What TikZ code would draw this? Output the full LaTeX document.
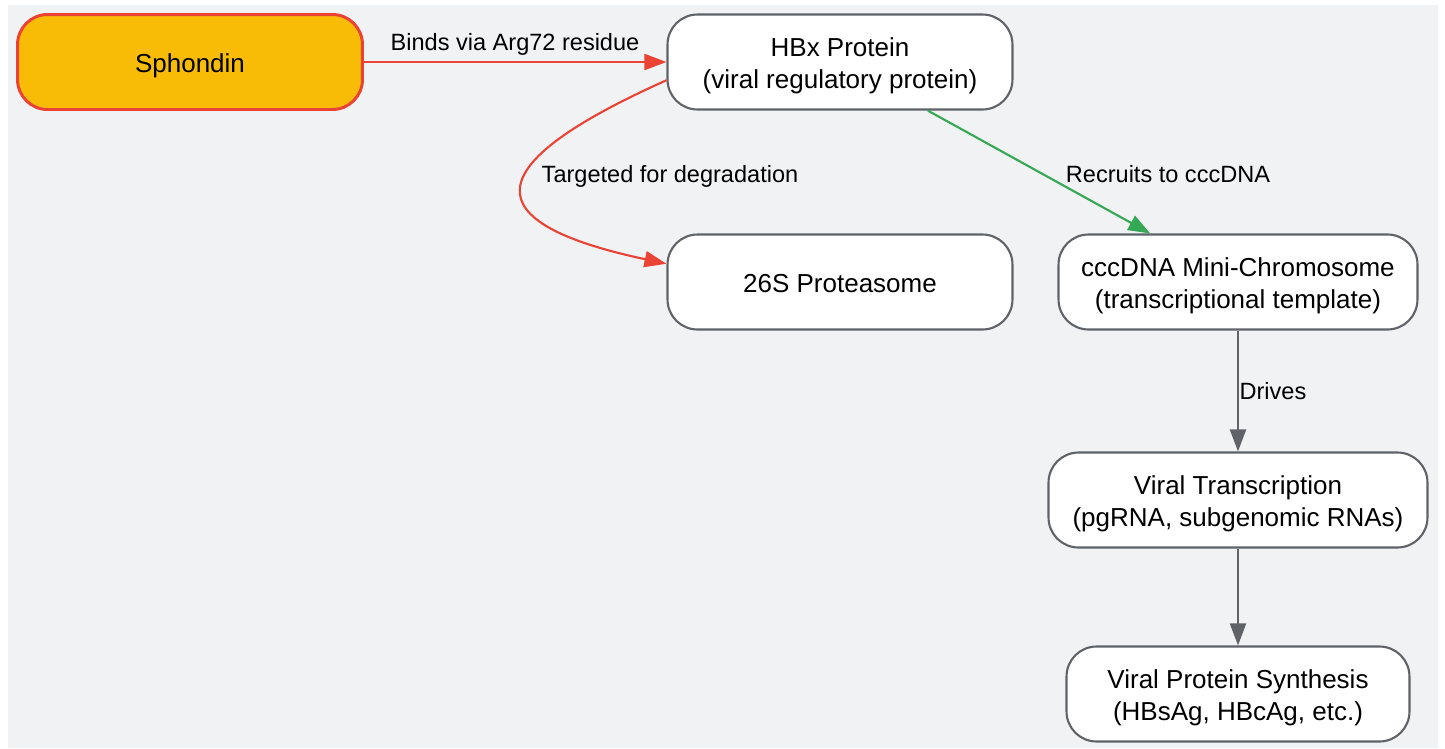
\documentclass[tikz,border=0pt]{standalone}
\usepackage{fontspec}
\setmainfont{Liberation Sans}
\usepackage{xcolor}
\usepackage{tikz}
\usetikzlibrary{arrows.meta, positioning}

\definecolor{bggray}{HTML}{F1F2F4}
\definecolor{boxgray}{HTML}{5F6368}
\definecolor{hlyellow}{HTML}{F9BC06}
\definecolor{hlred}{HTML}{EA4335}
\definecolor{hlgreen}{HTML}{34A853}

\tikzset{
	box/.style={draw=boxgray, line width=1.2pt, fill=white, rounded corners=0.6cm, minimum height=1.9cm, inner sep=0pt, align=center, text height=30.2pt, text depth=0pt, font=\fontsize{14.8}{18.2}\selectfont},
	onebox/.style={box, text height=11.5pt, text depth=0pt},
	drugbox/.style={onebox, draw=hlred, fill=hlyellow, line width=1.7pt},
	lbl/.style={inner sep=0pt, anchor=base, font=\fontsize{13.4}{16}\selectfont},
	link/.style={line width=1.2pt, -{Triangle[length=0.44cm, width=0.32cm]}},
}

\begin{document}
\begin{tikzpicture}[x=0.02cm, y=-0.02cm]
	\useasboundingbox (0,0) rectangle (1445,748);
	\fill[bggray] (8,5) rectangle (1438,748);
	
	\node[drugbox, minimum width=6.9cm] (sphondin) at (190,62) {Sphondin};
	\node[box, minimum width=6.9cm] (hbx) at (840,62) {HBx Protein\\(viral regulatory protein)};
	\node[onebox, minimum width=6.9cm] (prot) at (840,282) {26S Proteasome};
	\node[box, minimum width=7.18cm] (cccdna) at (1238,282) {cccDNA Mini-Chromosome\\(transcriptional template)};
	\node[box, minimum width=7.58cm] (transc) at (1238,500) {Viral Transcription\\(pgRNA, subgenomic RNAs)};
	\node[box, minimum width=6.86cm] (synth) at (1238,694) {Viral Protein Synthesis\\(HBsAg, HBcAg, etc.)};
	
	\draw[link, hlred] (sphondin) -- (hbx);
	\draw[link, hlred] (hbx.186) .. controls +(-192,86) and +(-192,-41) .. (prot.174);
	\draw[link, hlgreen] (hbx) -- (cccdna);
	\draw[link, boxgray] (cccdna) -- (transc);
	\draw[link, boxgray] (transc) -- (synth);
	
	\node[lbl] (bindlbl) at (515,50.5) {Binds via Arg72 residue};
	\node[lbl] (deglbl) at (670,182.5) {Targeted for degradation};
	\node[lbl] (reclbl) at (1168,182.5) {Recruits to cccDNA};
	\node[lbl] (drvlbl) at (1273,399.3) {Drives};
\end{tikzpicture}
\end{document}
